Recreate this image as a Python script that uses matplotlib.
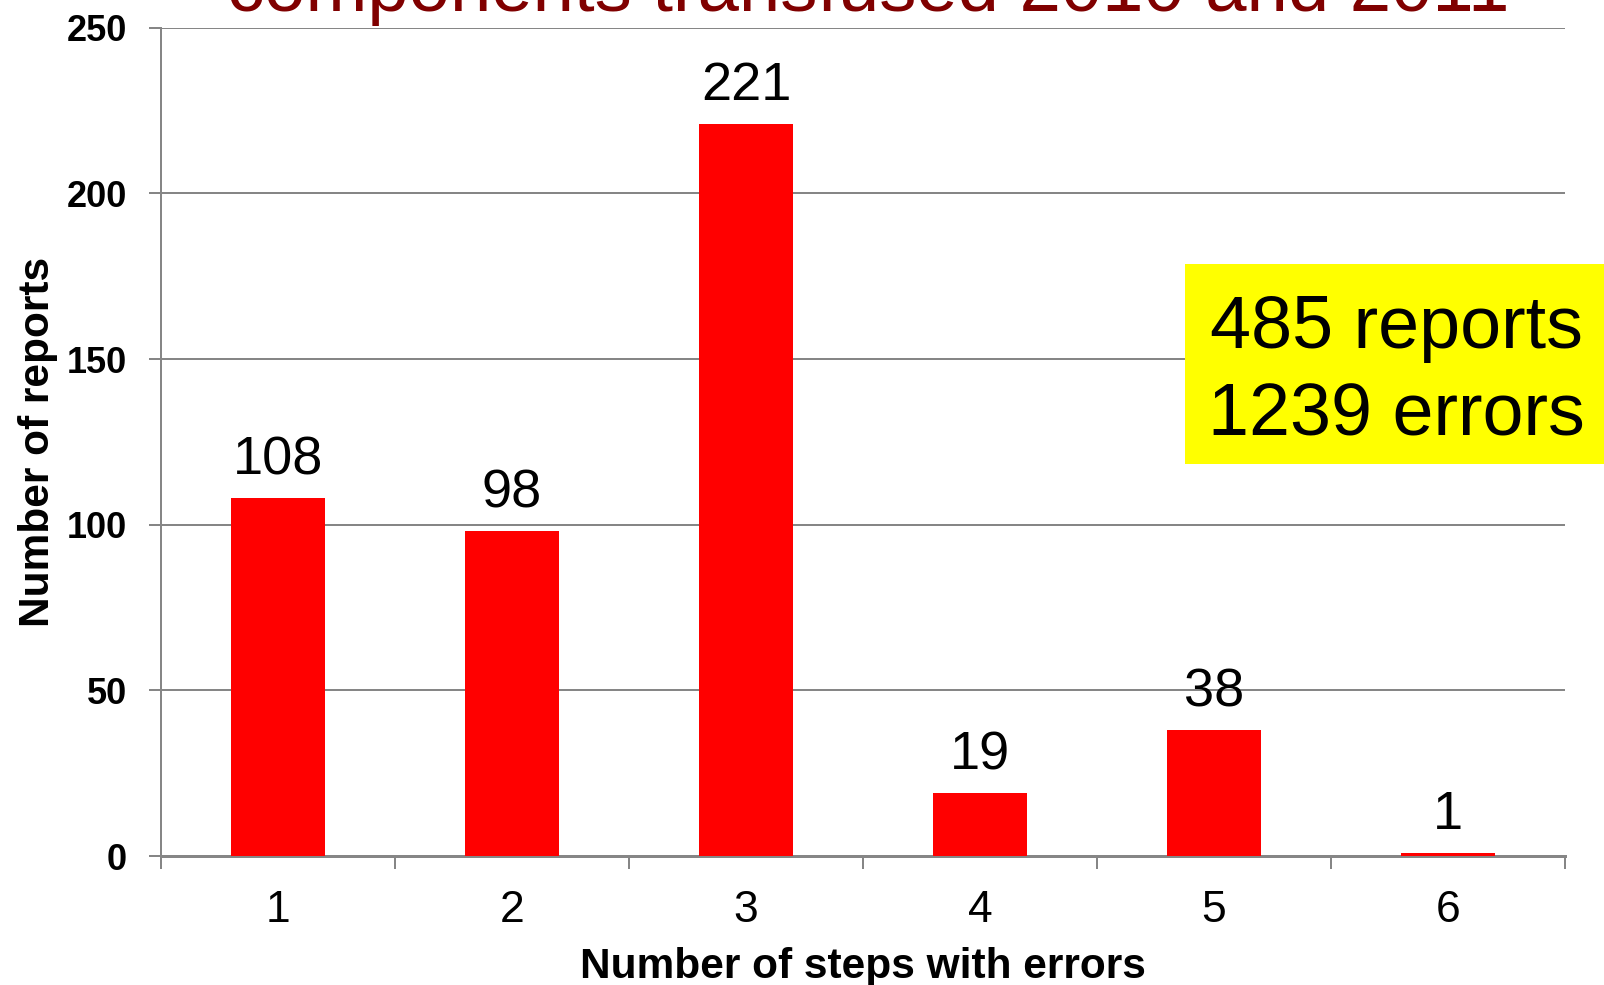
import matplotlib
matplotlib.use("Agg")
import matplotlib.pyplot as plt
from matplotlib.patches import Rectangle
from matplotlib.ticker import FixedLocator, NullFormatter

plt.rcParams['font.family'] = ['Liberation Sans', 'DejaVu Sans']

# Data
steps = [1, 2, 3, 4, 5, 6]
step_labels = ["1", "2", "3", "4", "5", "6"]
reports = [108, 98, 221, 19, 38, 1]
y_ticks = [0, 50, 100, 150, 200, 250]
title_text = "components transfused 2010 and 2011"
summary_lines = ["485 reports", "1239 errors"]

W, H, DPI = 1604, 985, 100
fig = plt.figure(figsize=(W / DPI, H / DPI), dpi=DPI)
fig.patch.set_facecolor("white")

def px(v):
    # pixels -> points
    return v * 72.0 / DPI

left, right, top, bottom = 161, 1565, 27.7, 856
ax = fig.add_axes([left / W, 1 - bottom / H, (right - left) / W, (bottom - top) / H])

grey = "#868686"
ax.bar(steps, reports, width=0.404, color="#ff0000", zorder=3)
ax.set_xlim(0.5, 6.5)
ax.set_ylim(0, 250)

# grid and frame
ax.set_yticks(y_ticks)
ax.yaxis.grid(True, color=grey, linewidth=px(2))
ax.set_axisbelow(True)
for side in ("top", "right"):
    ax.spines[side].set_visible(False)
for side in ("left", "bottom"):
    ax.spines[side].set_color(grey)
ax.spines["left"].set_linewidth(px(2))
ax.spines["bottom"].set_linewidth(px(3))

# y ticks
ax.tick_params(axis="y", length=px(12), width=px(2), color=grey, pad=px(22),
               labelsize=26)
for lab in ax.get_yticklabels():
    lab.set_fontweight("bold")

# x ticks: labels at the centres, marks on the category boundaries
ax.set_xticks(steps)
ax.set_xticklabels(step_labels)
ax.tick_params(axis="x", which="major", length=0, pad=px(34), labelsize=32)
ax.xaxis.set_minor_locator(FixedLocator([s + 0.5 for s in [0] + steps]))
ax.xaxis.set_minor_formatter(NullFormatter())
ax.tick_params(axis="x", which="minor", length=px(13), width=px(2), color=grey)

# value labels
for x, v in zip(steps, reports):
    ax.annotate(str(v), (x, v), xytext=(0, px(24)), textcoords="offset points",
                ha="center", va="baseline", fontsize=39, color="black")

# axis titles
ax.set_ylabel("Number of reports", fontsize=30.5, fontweight="bold")
ax.yaxis.set_label_coords(-0.0876, 0.5)
ax.set_xlabel("Number of steps with errors", fontsize=30.5, fontweight="bold")
ax.xaxis.set_label_coords(0.5, -0.134)
ax.xaxis.label.set_va("center")
ax.yaxis.label.set_va("center")

# title (top line runs off the page)
fig.text(868 / W, 1 - 10.5 / H, title_text, ha="center", va="baseline",
         fontsize=53.5, color="#800000")

# summary box
fig.add_artist(Rectangle((1185 / W, 1 - 464 / H), (W - 1185) / W, 200 / H,
                         transform=fig.transFigure, facecolor="#ffff00",
                         edgecolor="none", zorder=5))
for line, base in zip(summary_lines, [348, 435]):
    fig.text(1396 / W, 1 - base / H, line, ha="center", va="baseline",
             fontsize=53, color="black", zorder=6)

fig.savefig("out.png", dpi=DPI, facecolor="white")
